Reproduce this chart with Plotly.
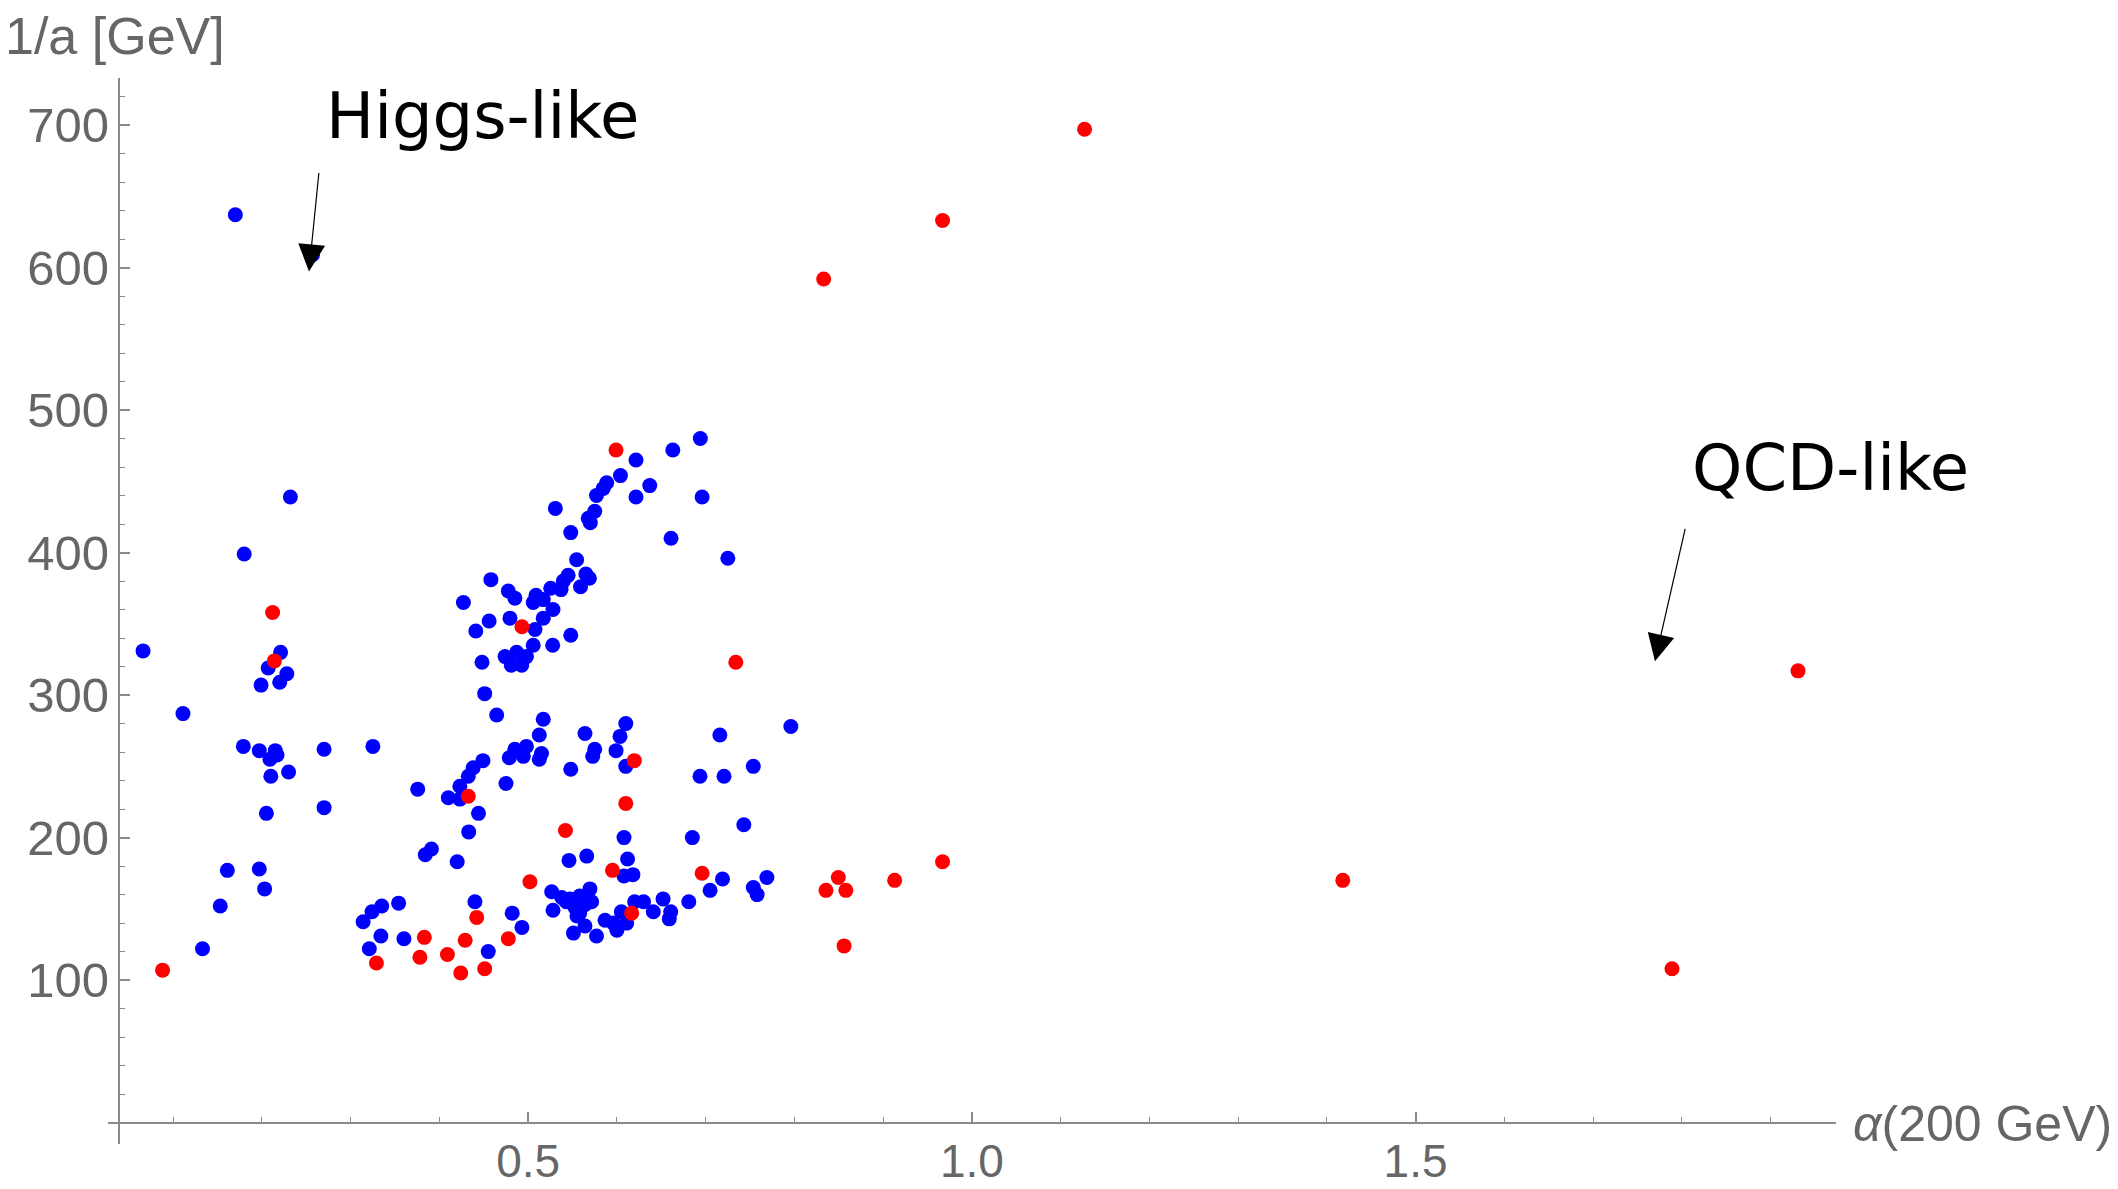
import plotly.graph_objects as go

# ---- data: alpha(200 GeV) and 1/a [GeV] ----
blue_alpha = [0.066, 0.221, 0.207, 0.228, 0.220, 0.199, 0.111, 0.179, 0.197, 0.215,
              0.217, 0.209, 0.210, 0.230, 0.270, 0.325, 0.205, 0.270, 0.161, 0.197,
              0.203, 0.153, 0.133, 0.180, 0.232, 0.170, 0.257,
              0.427, 0.456, 0.441, 0.458, 0.448, 0.451, 0.4645, 0.3755, 0.449,
              0.438, 0.4325, 0.423, 0.410, 0.423, 0.444, 0.433, 0.384, 0.391, 0.420,
              0.440, 0.455, 0.314, 0.324, 0.335, 0.354, 0.334, 0.360, 0.321,
              0.694, 0.663, 0.6215, 0.604, 0.637, 0.5885, 0.5846, 0.577, 0.6215, 0.696,
              0.5306, 0.575, 0.5677, 0.570, 0.548, 0.661, 0.725, 0.5546, 0.565, 0.569,
              0.545, 0.5396, 0.559, 0.5254, 0.537, 0.4776, 0.485, 0.5088, 0.517, 0.5057,
              0.528, 0.517, 0.4795, 0.5077, 0.5057, 0.5276, 0.548, 0.487, 0.474, 0.481,
              0.4927, 0.498,
              0.517, 0.610, 0.5125, 0.564, 0.6035, 0.716, 0.796, 0.485, 0.498, 0.4787,
              0.4945, 0.515, 0.5125, 0.575, 0.5727, 0.599, 0.610, 0.548, 0.475, 0.6936,
              0.7207, 0.7537, 0.743, 0.685, 0.608, 0.546, 0.566, 0.612, 0.608, 0.618,
              0.719, 0.705, 0.769, 0.7537, 0.758, 0.681, 0.652, 0.641, 0.6606, 0.659,
              0.630, 0.620, 0.5265, 0.5378, 0.547, 0.558, 0.5696, 0.5715, 0.5527, 0.528,
              0.558, 0.551, 0.564, 0.577, 0.5866, 0.596, 0.605, 0.611, 0.482, 0.493,
              0.543, 0.564, 0.555, 0.600]
blue_inv_a = [331, 330, 319, 315, 309, 307, 287, 264, 261, 261,
              258, 255, 243, 246, 262, 264, 217, 221, 177, 178,
              164, 152, 122, 399, 439, 637, 609,
              365, 352, 345, 381, 323, 301, 286, 234, 254,
              249, 243, 236, 228, 227, 217, 204, 188, 192, 183,
              155, 120, 141, 148, 152, 154, 131, 129, 122,
              480, 472, 465, 454, 447, 449, 445, 440, 439, 439,
              431, 429, 424, 421, 414, 410, 396, 395, 385, 382,
              384, 380, 376, 375, 374, 373, 368, 370, 367, 365,
              360, 354, 354, 346, 335, 335, 342, 330, 327, 321,
              321, 327,
              283, 280, 272, 273, 271, 272, 278, 262, 264, 256,
              257, 259, 255, 262, 257, 261, 250, 248, 238, 243,
              243, 250, 209, 200, 200, 184, 187, 185, 173, 174,
              171, 163, 172, 165, 160, 155, 157, 148, 148, 143,
              155, 155, 162, 158, 157, 159, 164, 155, 151, 149,
              147, 133, 138, 131, 142, 140, 148, 140, 147, 137,
              155, 153, 145, 135]

red_alpha = [0.088, 0.212, 0.214, 0.493, 0.4325, 0.442, 0.429, 0.4776, 0.383, 0.378,
             0.409, 0.424, 0.451, 0.329, 0.502, 0.599, 0.734, 0.6196, 0.610, 0.542,
             0.595, 0.696, 0.6166, 0.8495, 0.8356, 0.858, 0.913, 0.967, 0.856, 1.418,
             1.789, 1.931, 1.127, 0.967, 0.833]
red_inv_a = [107, 358, 324, 348, 229, 144, 128, 129, 130, 116,
             118, 105, 108, 112, 169, 472, 323, 254, 224, 205,
             177, 175, 147, 172, 163, 163, 170, 183, 124, 170,
             108, 317, 697, 633, 592]

y_ticks = [100, 200, 300, 400, 500, 600, 700]
x_ticks = [0.5, 1.0, 1.5]
x_ticktext = ["0.5", "1.0", "1.5"]

X_RANGE = [0.0265, 1.9738]
Y_RANGE = [-15, 733]
Y_AXIS_AT_X = 0.0388

AX_GRAY = "#8a8a8a"
TXT_GRAY = "#666666"
X_TICK_FONT = dict(family="Liberation Sans, Arial, sans-serif", size=46, color=TXT_GRAY)
Y_TICK_FONT = dict(family="Liberation Sans, Arial, sans-serif", size=49, color=TXT_GRAY)

fig = go.Figure()
fig.add_trace(go.Scatter(x=blue_alpha, y=blue_inv_a, mode="markers",
                         marker=dict(color="#0000ff", size=15, line=dict(width=0)),
                         showlegend=False, cliponaxis=False))
fig.add_trace(go.Scatter(x=red_alpha, y=red_inv_a, mode="markers",
                         marker=dict(color="#ff0000", size=15, line=dict(width=0)),
                         showlegend=False, cliponaxis=False))

ypos = (Y_AXIS_AT_X - X_RANGE[0]) / (X_RANGE[1] - X_RANGE[0])
xpos = (0 - Y_RANGE[0]) / (Y_RANGE[1] - Y_RANGE[0])

fig.update_layout(
    width=2118, height=1189,
    margin=dict(l=108, r=282, t=78, b=45, autoexpand=False),
    paper_bgcolor="white", plot_bgcolor="white",
    xaxis=dict(range=X_RANGE, anchor="free", position=xpos,
               showline=True, linecolor=AX_GRAY, linewidth=2,
               showgrid=False, zeroline=False,
               tickmode="array", tickvals=x_ticks, ticktext=x_ticktext,
               ticks="inside", ticklen=10, tickwidth=1.5, tickcolor=AX_GRAY,
               minor=dict(tickmode="linear", tick0=0, dtick=0.1, ticks="inside",
                          ticklen=5, tickwidth=1.2, tickcolor=AX_GRAY),
               tickfont=X_TICK_FONT, ticklabelstandoff=-2, automargin=False),
    yaxis=dict(range=Y_RANGE, anchor="free", position=ypos,
               showline=True, linecolor=AX_GRAY, linewidth=2,
               showgrid=False, zeroline=False,
               tickmode="array", tickvals=y_ticks,
               ticks="inside", ticklen=10, tickwidth=1.5, tickcolor=AX_GRAY,
               minor=dict(tickmode="linear", tick0=0, dtick=20, ticks="inside",
                          ticklen=5, tickwidth=1.2, tickcolor=AX_GRAY),
               tickfont=Y_TICK_FONT, ticklabelstandoff=-1, automargin=False),
)

LABEL_FONT = dict(family="Liberation Sans, Arial, sans-serif", size=52, color=TXT_GRAY)
AXLABEL_FONT = dict(family="Liberation Sans, Arial, sans-serif", size=50, color=TXT_GRAY)
ANN_FONT = dict(family="DejaVu Sans, sans-serif", size=64, color="black")

annotations = [
    dict(text="1/a [GeV]", xref="paper", yref="paper", x=-0.061, y=1.0397,
         xanchor="left", yanchor="middle", showarrow=False, font=LABEL_FONT),
    dict(text="<i>α</i>(200 GeV)", xref="paper", yref="paper", x=1.0085, y=0.0191,
         xanchor="left", yanchor="middle", showarrow=False, font=AXLABEL_FONT),
    dict(text="Higgs-like", xref="x", yref="y", x=0.449, y=706.5,
         xanchor="center", yanchor="middle", showarrow=False, font=ANN_FONT),
    dict(text="QCD-like", xref="x", yref="y", x=1.968, y=459,
         xanchor="center", yanchor="middle", showarrow=False, font=ANN_FONT),
    dict(text="", xref="x", yref="y", axref="x", ayref="y",
         x=0.2530, y=597.3, ax=0.2643, ay=667.4,
         showarrow=True, arrowhead=2, arrowsize=4.5, arrowwidth=1.2,
         arrowcolor="black", standoff=0),
    dict(text="", xref="x", yref="y", axref="x", ayref="y",
         x=1.7698, y=323.7, ax=1.8042, ay=417.7,
         showarrow=True, arrowhead=2, arrowsize=4.5, arrowwidth=1.2,
         arrowcolor="black", standoff=0),
]
fig.update_layout(annotations=annotations)

fig.write_html("out.html")
